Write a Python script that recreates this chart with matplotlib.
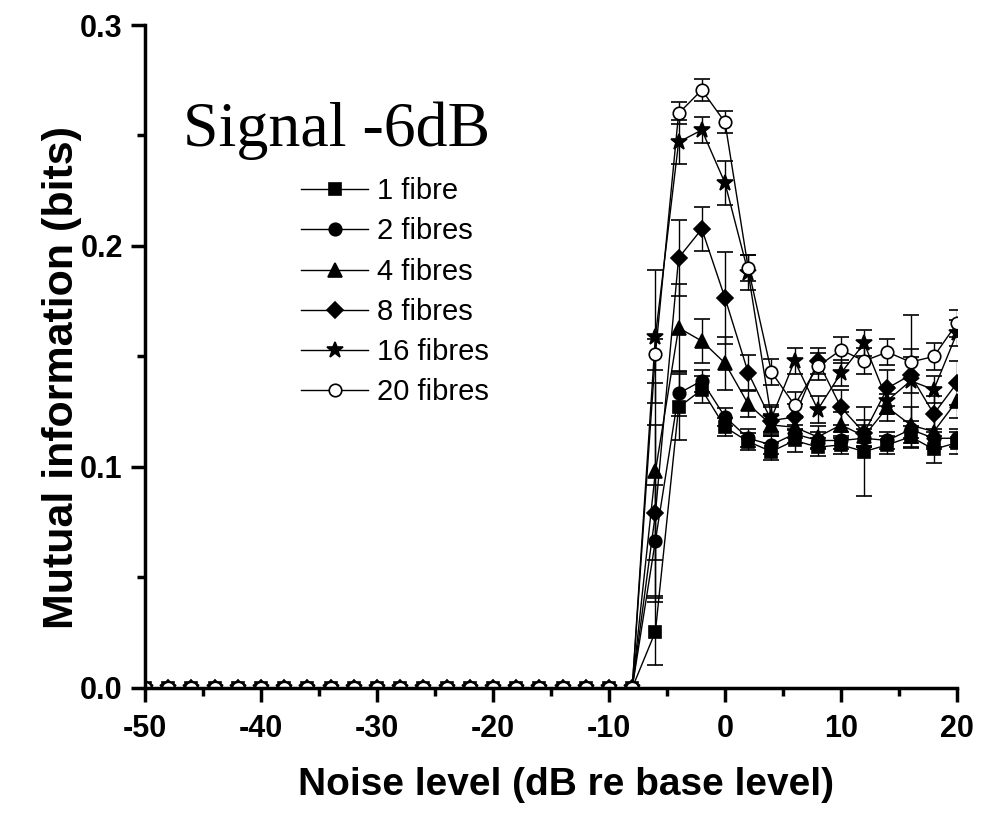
import numpy as np
import matplotlib
matplotlib.use("Agg")
import matplotlib.pyplot as plt

plt.rcParams["axes.unicode_minus"] = False

# noise levels (dB re base level)
noise = list(range(-50, 21, 2))
n_zero = 22  # -50 .. -8 all zero

# values from -6 to 20 dB
v1 = [0.0255, 0.127, 0.135, 0.118, 0.1115, 0.107, 0.112, 0.109, 0.110, 0.107, 0.110, 0.1137, 0.108, 0.111]
v2 = [0.0667, 0.1333, 0.139, 0.1227, 0.1130, 0.110, 0.115, 0.112, 0.112, 0.113, 0.112, 0.117, 0.113, 0.113]
v4 = [0.098, 0.163, 0.157, 0.147, 0.1285, 0.119, 0.118, 0.1136, 0.119, 0.114, 0.127, 0.119, 0.116, 0.130]
v8 = [0.079, 0.1946, 0.2077, 0.1765, 0.1427, 0.121, 0.1226, 0.148, 0.127, 0.1154, 0.1357, 0.1416, 0.124, 0.138]
v16 = [0.159, 0.247, 0.2525, 0.2285, 0.188, 0.122, 0.148, 0.126, 0.1425, 0.156, 0.130, 0.139, 0.135, 0.1606]
v20 = [0.151, 0.260, 0.2706, 0.256, 0.190, 0.143, 0.128, 0.1455, 0.153, 0.148, 0.152, 0.1475, 0.150, 0.165]

# error bars (same points)
e1 = [0.015, 0.015, 0.006, 0.004, 0.004, 0.004, 0.005, 0.004, 0.004, 0.020, 0.004, 0.005, 0.006, 0.005]
e2 = [0.025, 0.010, 0.005, 0.004, 0.004, 0.004, 0.004, 0.004, 0.004, 0.004, 0.004, 0.004, 0.004, 0.004]
e4 = [0.040, 0.020, 0.010, 0.012, 0.006, 0.005, 0.005, 0.005, 0.006, 0.005, 0.006, 0.008, 0.008, 0.008]
e8 = [0.040, 0.017, 0.010, 0.021, 0.008, 0.006, 0.006, 0.006, 0.008, 0.006, 0.008, 0.008, 0.008, 0.010]
e16 = [0.030, 0.010, 0.006, 0.010, 0.008, 0.006, 0.006, 0.006, 0.006, 0.006, 0.006, 0.030, 0.006, 0.006]
e20 = [0.007, 0.005, 0.005, 0.005, 0.006, 0.006, 0.006, 0.006, 0.006, 0.006, 0.006, 0.006, 0.006, 0.006]

labels = ["1 fibre", "2 fibres", "4 fibres", "8 fibres", "16 fibres", "20 fibres"]
series = [v1, v2, v4, v8, v16, v20]
erros = [e1, e2, e4, e8, e16, e20]
markers = ["s", "o", "^", "D", "*", "o"]
msizes = [8, 9, 10, 8, 12, 9]
faces = ["black", "black", "black", "black", "black", "white"]

fig = plt.figure(figsize=(9.88, 8.17), dpi=100)
ax = fig.add_axes([0.1468, 0.1579, 0.8218, 0.8115])

handles = []
for vals, err, mk, ms, fc, lab in zip(series, erros, markers, msizes, faces, labels):
    y = [0.0] * n_zero + vals
    ye = [0.0] * n_zero + err
    eb = ax.errorbar(noise, y, yerr=ye, fmt="-", marker=mk, ms=ms,
                     mfc=fc, mec="black", mew=1.2, color="black", lw=1,
                     elinewidth=1, ecolor="black", capsize=6, capthick=1)
    handles.append(eb.lines[0])

ax.set_xlim(-50, 20)
ax.set_ylim(0, 0.3)
ax.set_xticks(range(-50, 21, 10))
ax.set_xticks(range(-45, 20, 10), minor=True)
ax.set_yticks([0.0, 0.1, 0.2, 0.3])
ax.set_yticks([0.05, 0.15, 0.25], minor=True)
ax.set_yticklabels(["0.0", "0.1", "0.2", "0.3"])

for s in ["top", "right"]:
    ax.spines[s].set_visible(False)
for s in ["left", "bottom"]:
    ax.spines[s].set_linewidth(2.5)

ax.tick_params(which="major", direction="out", length=10, width=2.5)
ax.tick_params(axis="x", which="major", pad=9)
ax.tick_params(axis="y", which="major", pad=6)
ax.tick_params(which="minor", direction="out", length=6, width=2.5)
for lbl in ax.get_xticklabels() + ax.get_yticklabels():
    lbl.set_fontfamily("Liberation Sans")
    lbl.set_fontweight("bold")
    lbl.set_fontsize(22)

ax.set_xlabel("Noise level (dB re base level)", fontfamily="Liberation Sans",
              fontweight="bold", fontsize=28, labelpad=16)
ax.xaxis.label.set_x(0.518)
ax.set_ylabel("Mutual information (bits)", fontfamily="Liberation Sans",
              fontweight="bold", fontsize=31)
ax.yaxis.set_label_coords(-0.078, 0.468)

ax.text(0.047, 0.818, "Signal -6dB", transform=ax.transAxes,
        fontfamily="Liberation Serif", fontsize=46, ha="left", va="baseline")

ax.legend(handles, labels, loc="upper left", bbox_to_anchor=(0.16, 0.81),
          frameon=False, numpoints=1, handlelength=2.3, handletextpad=0.3,
          labelspacing=0.42, prop={"family": "Liberation Sans", "size": 21})

fig.savefig("out.png", dpi=100)
